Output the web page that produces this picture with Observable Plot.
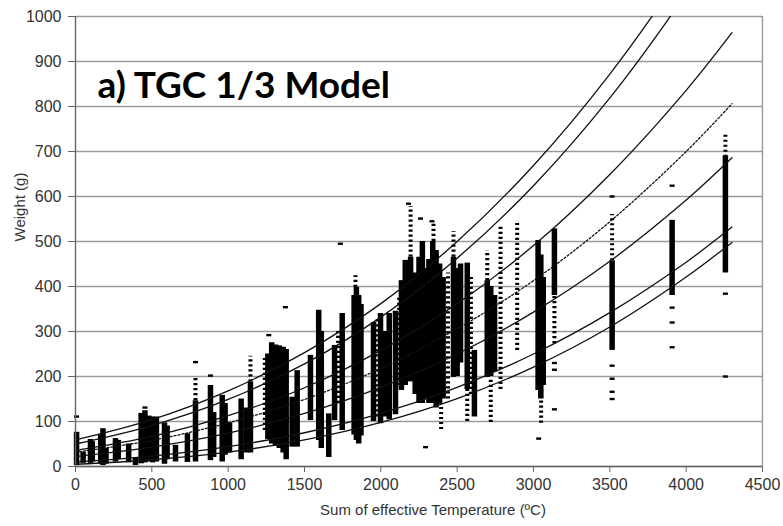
<!DOCTYPE html>
<html><head><meta charset="utf-8">
<script src="https://cdn.jsdelivr.net/npm/d3@7"></script>
<script src="https://cdn.jsdelivr.net/npm/@observablehq/plot@0.6"></script>
<style>body{margin:0;background:#fff}</style>
</head><body><div id="chart"></div>
<script>
// Tick values
const xTicks = [0, 500, 1000, 1500, 2000, 2500, 3000, 3500, 4000, 4500];
const yTicks = [0, 100, 200, 300, 400, 500, 600, 700, 800, 900, 1000];

// Model curves: weight (g) read at these temperature sums
const tGrid = [0, 500, 1000, 1500, 2000, 2500, 3000, 3500, 4000, 4300];
const curve1 = [59, 104, 168, 253, 362, 500, 669, 872, 1112, 1276];
const curve2 = [50, 91, 149, 228, 332, 463, 624, 819, 1051, 1209];
const curve3 = [36, 67, 113, 175, 258, 362, 491, 649, 836, 964];
const curveDotted = [32, 58, 97, 149, 218, 306, 413, 544, 700, 806];
const curve5 = [22, 43, 74, 118, 176, 250, 343, 456, 592, 686];
const curve6 = [10, 23, 44, 75, 118, 176, 250, 342, 454, 532];
const curve7 = [5, 15, 32, 59, 98, 151, 221, 310, 421, 498];

// Dense columns of observations: [temperature sum, low weight, high weight]
const denseCols = [
  [7, 2, 76], [50, 7, 32], [98, 7, 60], [110, 10, 55], [165, 5, 70], [180, 2, 84], [200, 5, 40],
  [262, 10, 62], [280, 15, 58], [348, 8, 50], [393, 2, 20],
  [430, 6, 118], [455, 8, 124], [480, 10, 112], [505, 8, 110], [530, 10, 110],
  [583, 5, 97], [600, 15, 90], [655, 10, 47], [733, 9, 73], [786, 10, 146], [884, 13, 180], [905, 20, 120],
  [961, 10, 158], [980, 25, 140], [1009, 30, 97], [1085, 15, 150], [1120, 30, 130], [1146, 30, 188],
  [1260, 60, 250], [1285, 50, 275], [1310, 45, 270], [1335, 40, 268], [1360, 30, 265], [1380, 15, 260],
  [1419, 43, 154], [1452, 43, 213], [1539, 102, 247], [1593, 58, 347], [1610, 40, 300],
  [1659, 20, 117], [1697, 102, 269], [1747, 80, 340],
  [1825, 70, 380], [1840, 58, 398], [1855, 50, 380], [1870, 68, 360],
  [1952, 100, 320], [1998, 95, 340], [2030, 110, 300], [2055, 104, 340], [2096, 115, 345],
  [2135, 169, 413], [2160, 180, 458], [2195, 188, 465], [2225, 160, 430],
  [2250, 140, 465], [2272, 140, 500], [2293, 150, 440], [2315, 140, 460],
  [2340, 140, 500], [2362, 130, 480], [2385, 140, 450], [2408, 150, 420],
  [2476, 198, 465], [2500, 200, 440], [2522, 230, 450], [2566, 171, 452], [2613, 110, 258],
  [2697, 198, 413], [2720, 200, 400], [2745, 210, 380],
  [3030, 169, 502], [3048, 150, 470], [3064, 180, 420], [3137, 380, 528],
  [3515, 258, 457], [3908, 380, 547], [4257, 430, 690]
];

// Sparser runs of observations: [temperature sum, low weight, high weight]
const sparseCols = [
  [786, 146, 200], [1146, 188, 245], [1834, 398, 424], [2195, 465, 578],
  [2345, 500, 540], [2395, 82, 140], [2476, 465, 522], [2566, 100, 171],
  [2697, 413, 480], [2720, 98, 198], [2784, 171, 535], [3050, 96, 169],
  [3515, 457, 560], [4257, 687, 740], [1720, 140, 300], [1980, 110, 330],
  [2120, 180, 380], [2440, 150, 430], [2590, 160, 420], [1240, 80, 240],
  [2893, 258, 540], [3137, 273, 380]
];

// Isolated observations: [temperature sum, weight]
const outliers = [
  [7, 111], [455, 131], [786, 232], [884, 202], [1266, 292], [1375, 354], [1735, 495],
  [2181, 584], [2260, 551], [2335, 545], [2293, 43], [3034, 62],
  [3137, 230], [3137, 215], [3137, 127],
  [3515, 600], [3515, 224], [3515, 195], [3515, 166], [3515, 150],
  [3908, 624], [3908, 353], [3908, 320], [3908, 265],
  [4257, 384], [4257, 200]
];

const curveTable = (vals, name) => tGrid.map((t, i) => ({t, w: vals[i], name}));
const solidCurves = [
  ...curveTable(curve1, "c1"), ...curveTable(curve2, "c2"), ...curveTable(curve3, "c3"),
  ...curveTable(curve5, "c5"), ...curveTable(curve6, "c6"), ...curveTable(curve7, "c7")
];
const dottedCurve = curveTable(curveDotted, "c4");

const dash = {draw(ctx) { ctx.moveTo(-2.5, -1.2); ctx.lineTo(2.5, -1.2); ctx.lineTo(2.5, 1.2); ctx.lineTo(-2.5, 1.2); ctx.closePath(); }};

const chart = Plot.plot({
  width: 783, height: 526,
  marginLeft: 75, marginRight: 21, marginTop: 16, marginBottom: 60,
  style: {fontFamily: "'Liberation Sans', Arial, sans-serif", fontSize: "16px", color: "#333", background: "white"},
  x: {domain: [0, 4500]},
  y: {domain: [0, 1000]},
  marks: [
    Plot.gridY(yTicks, {stroke: "#9a9a9a", strokeOpacity: 1, strokeWidth: 1.4}),
    Plot.ruleX([4500], {stroke: "#9a9a9a", strokeWidth: 1.4}),
    Plot.ruleX(denseCols, {x: d => d[0], y1: d => d[1], y2: d => d[2], stroke: "black", strokeWidth: 5.5}),
    Plot.ruleX(sparseCols, {x: d => d[0], y1: d => d[1], y2: d => d[2], stroke: "black", strokeWidth: 4, strokeDasharray: "2.2,2.8"}),
    Plot.dot(outliers, {x: d => d[0], y: d => d[1], symbol: dash, fill: "black", stroke: null, r: 3}),
    Plot.line(solidCurves, {x: "t", y: "w", z: "name", curve: "catmull-rom", stroke: "#111", strokeWidth: 1.3, clip: true}),
    Plot.line(dottedCurve, {x: "t", y: "w", curve: "catmull-rom", stroke: "#111", strokeWidth: 1.3, strokeDasharray: "2,2", clip: true}),
    Plot.ruleX([0], {stroke: "#666", strokeWidth: 1.4}),
    Plot.ruleY([0], {stroke: "#666", strokeWidth: 1.4}),
    Plot.axisX(xTicks, {tickSize: 6, tickPadding: 6, fontSize: 16, tickFormat: d => String(d), label: null, stroke: "#666"}),
    Plot.axisY(yTicks, {tickSize: 7, tickPadding: 7, fontSize: 16, tickFormat: d => String(d), label: null, stroke: "#666"}),
    Plot.text(["Sum of effective Temperature (ºC)"], {frameAnchor: "bottom", dx: 14, dy: 48, fontSize: 15, fill: "#333"}),
    Plot.text(["Weight (g)"], {frameAnchor: "left", dx: -55, rotate: -90, fontSize: 15, fill: "#333"}),
    Plot.text(["a) TGC 1/3 Model"], {frameAnchor: "top-left", textAnchor: "start", dx: 22, dy: 55, fontSize: 37, fontWeight: "bold", fontFamily: "Lato, 'Open Sans', sans-serif", fill: "black"})
  ]
});
document.getElementById("chart").appendChild(chart);
</script>
</body></html>
